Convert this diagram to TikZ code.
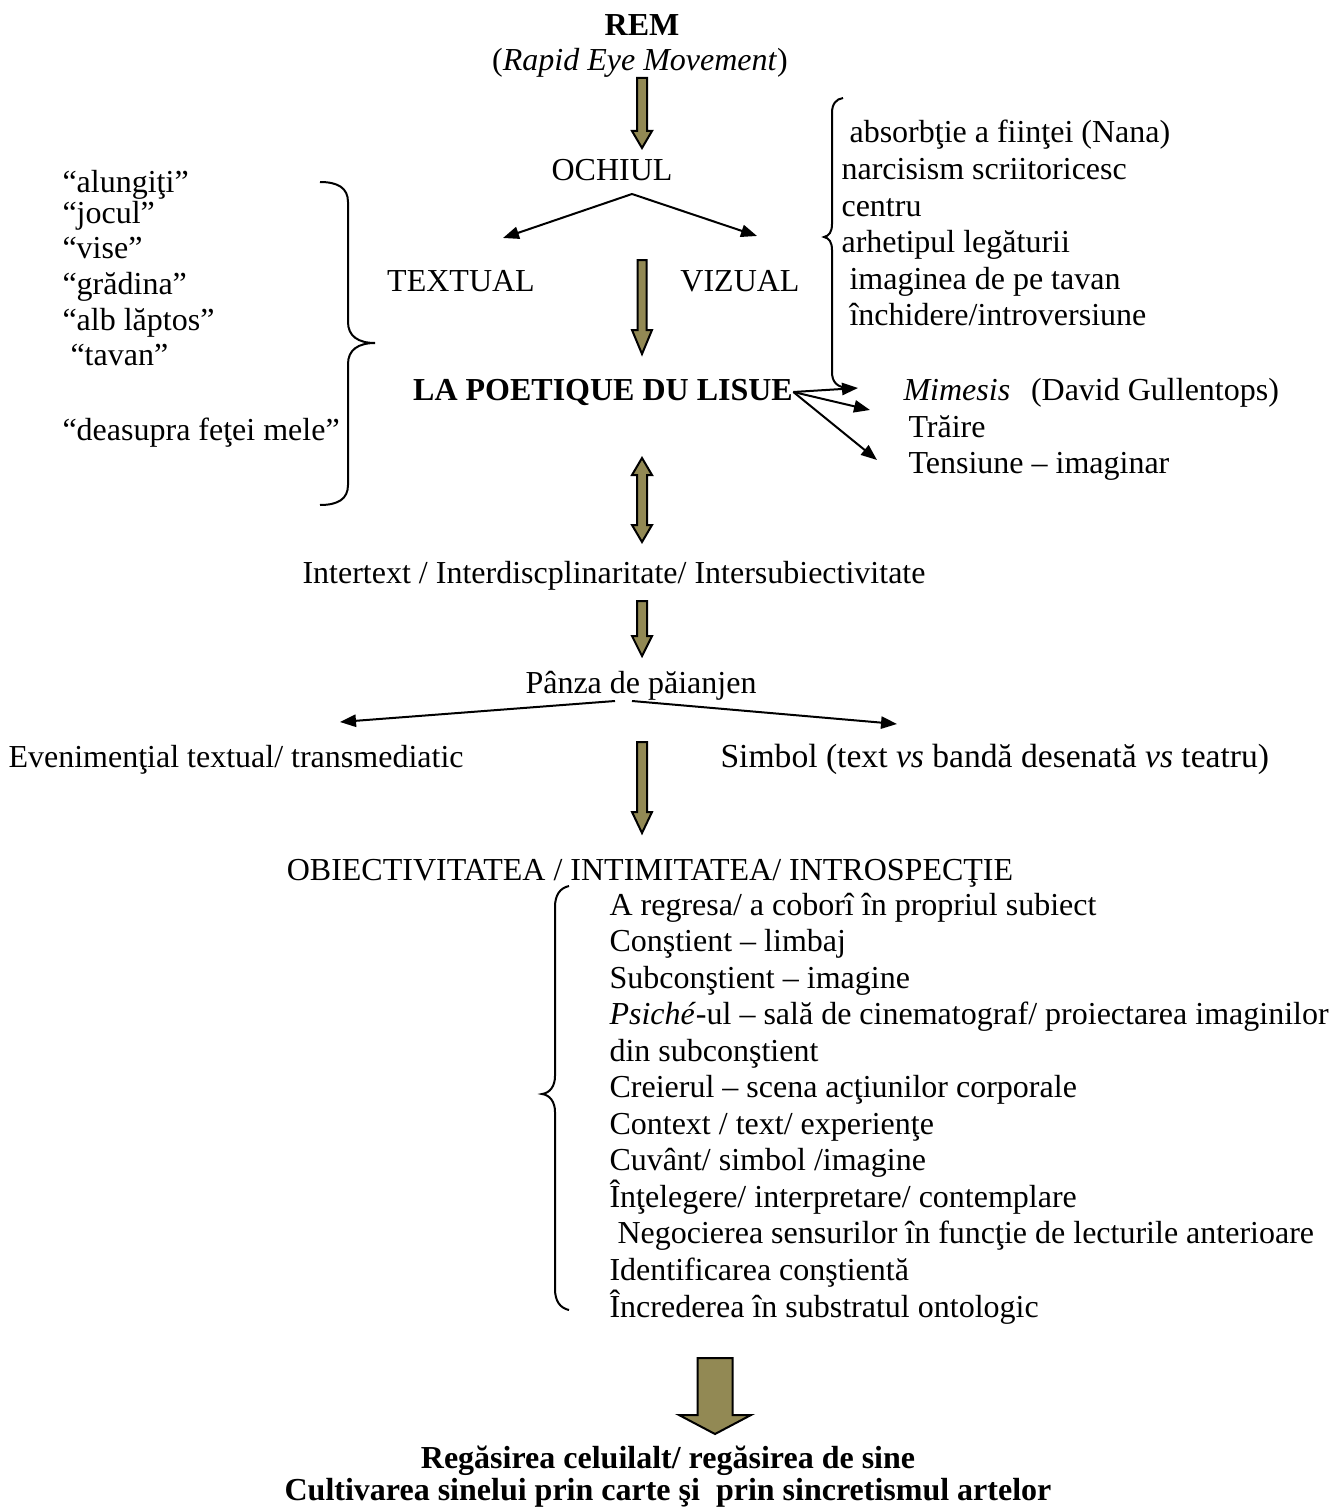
\documentclass[tikz,border=0pt]{standalone}
\usepackage{fontspec}
\setmainfont{Liberation Serif}
\usetikzlibrary{arrows.meta}

\definecolor{olivefill}{RGB}{146,137,84}
\newcommand{\dfont}{\fontsize{12}{13.7}\selectfont}
% block arrow: x, top, tip, shaft half width, head half width, head length
\newcommand{\blkdown}[6]{%
  \filldraw[blk] (#1-#4,#2) -- (#1+#4,#2) -- (#1+#4,#3-#6) -- (#1+#5,#3-#6) -- (#1,#3)
    -- (#1-#5,#3-#6) -- (#1-#4,#3-#6) -- cycle;}
% double block arrow: x, top tip, bottom tip, shaft half, head half, head length
\newcommand{\blkboth}[6]{%
  \filldraw[blk] (#1,#2) -- (#1+#5,#2+#6) -- (#1+#4,#2+#6) -- (#1+#4,#3-#6) -- (#1+#5,#3-#6)
    -- (#1,#3) -- (#1-#5,#3-#6) -- (#1-#4,#3-#6) -- (#1-#4,#2+#6) -- (#1-#5,#2+#6) -- cycle;}

\begin{document}
\begin{tikzpicture}[x=0.375pt, y=-0.375pt, font=\dfont,
  lbl/.style={inner sep=0pt, anchor=base},
  itm/.style={inner sep=0pt, anchor=base west},
  bold/.style={font=\dfont\bfseries},
  arr/.style={-{Triangle[length=6pt,width=4.6pt]}, line width=0.75pt},
  blk/.style={draw=black, fill=olivefill, line width=0.75pt},
  brc/.style={line width=0.75pt}]
\useasboundingbox (0,0) rectangle (1338,1509);

% top part
\node[lbl, bold] (rem) at (642,36) {REM};
\node[lbl] (rapid) at (640,71) {(\textit{Rapid Eye Movement})};
\node[lbl] (ochiul) at (612,180) {OCHIUL};
\node[lbl] (textual) at (461,291) {TEXTUAL};
\node[lbl] (vizual) at (740,291) {VIZUAL};
\node[lbl, bold] (poetique) at (603,400) {LA POETIQUE DU LISUE};

\foreach \t [count=\i from 0] in {\ absorbţie a fiinţei (Nana), narcisism scriitoricesc, centru, arhetipul legăturii, \ imaginea de pe tavan, \ închidere/introversiune}
  \node[itm] (r\i) at (841,143+36.55*\i) {\t};

\foreach \t/\y [count=\i from 0] in {“alungiţi”/192, “jocul”/223, “vise”/258, “grădina”/294, “alb lăptos”/330, \ “tavan”/365}
  \node[itm] (l\i) at (62,\y) {\t};
\node[itm] (l7) at (62,440) {“deasupra feţei mele”};

\node[itm] (mimesis) at (903,400) {\textit{Mimesis}\hspace{0.65em}(David Gullentops)};
\node[itm] (traire) at (908,437) {Trăire};
\node[itm] (tensiune) at (908,473) {Tensiune – imaginar};

% middle part
\node[lbl] (intertext) at (614,583) {Intertext / Interdiscplinaritate/ Intersubiectivitate};
\node[lbl] (panza) at (641,693) {Pânza de păianjen};
\node[itm] (eveniment) at (8,767) {Evenimenţial textual/ transmediatic};
\node[itm, font=\fontsize{12.6}{14.4}\selectfont] (simbol) at (720,767) {Simbol (text \textit{vs} bandă desenată \textit{vs} teatru)};
\node[lbl] (obiect) at (650,880) {OBIECTIVITATEA / INTIMITATEA/ INTROSPECŢIE};

\foreach \t [count=\i from 0] in {A regresa/ a coborî în propriul subiect, Conştient – limbaj, Subconştient – imagine, \textit{Psiché}-ul – sală de cinematograf/ proiectarea imaginilor, din subconştient, Creierul – scena acţiunilor corporale, Context / text/ experienţe, Cuvânt/ simbol /imagine, Înţelegere/ interpretare/ contemplare, \ Negocierea sensurilor în funcţie de lecturile anterioare, Identificarea conştientă, Încrederea în substratul ontologic}
  \node[itm] (b\i) at (609,915+36.55*\i) {\t};

% bottom
\node[lbl, bold] (regasire) at (668,1468) {Regăsirea celuilalt/ regăsirea de sine};
\node[lbl, bold] (cultivare) at (668,1500) {Cultivarea sinelui prin carte şi\ \ prin sincretismul artelor};

% forks
\coordinate (forkA) at (632,194);
\coordinate (tipT) at (503,238);
\coordinate (tipV) at (757,236);
\draw[arr] (forkA) -- (tipT);
\draw[arr] (forkA) -- (tipV);

\coordinate (m1) at (858,388);
\coordinate (m2) at (870,410);
\coordinate (m3) at (877,460);
\draw[arr] (poetique.east) -- (m1);
\draw[arr] (poetique.east) -- (m2);
\draw[arr] (poetique.east) -- (m3);

\coordinate (forkL) at (615,701);
\coordinate (forkR) at (632,701);
\coordinate (tipE) at (340,722);
\coordinate (tipS) at (897,724);
\draw[arr] (forkL) -- (tipE);
\draw[arr] (forkR) -- (tipS);

% braces
\draw[brc] (843,98) .. controls (836,99) and (832,104) .. (832,113) -- (832,224)
  .. controls (832,232) and (829,236) .. (824,237) .. controls (829,238) and (832,242) .. (832,250)
  -- (832,372) .. controls (832,382) and (837,388) .. (850,388);
\draw[brc] (320,182) .. controls (338,182) and (348,188) .. (348,202) -- (348,322)
  .. controls (348,336) and (358,343) .. (375,343) .. controls (358,343) and (348,350) .. (348,364)
  -- (348,485) .. controls (348,499) and (338,505) .. (320,505);
\draw[brc] (569,886) .. controls (560,888) and (555,895) .. (555,907) -- (555,1076)
  .. controls (555,1086) and (550,1093) .. (542,1094) .. controls (550,1095) and (555,1102) .. (555,1112)
  -- (555,1289) .. controls (555,1301) and (560,1308) .. (569,1310);

% block arrows
\blkdown{642}{78}{148}{5}{10}{17}
\blkdown{642}{260}{354}{4.5}{10}{24}
\blkboth{642}{458}{542}{5}{10}{17}
\blkdown{642}{601}{656}{5}{10}{20}
\blkdown{642}{742}{833}{5}{10}{21}
\blkdown{715}{1358}{1434}{17.5}{36}{19}

\end{tikzpicture}
\end{document}
